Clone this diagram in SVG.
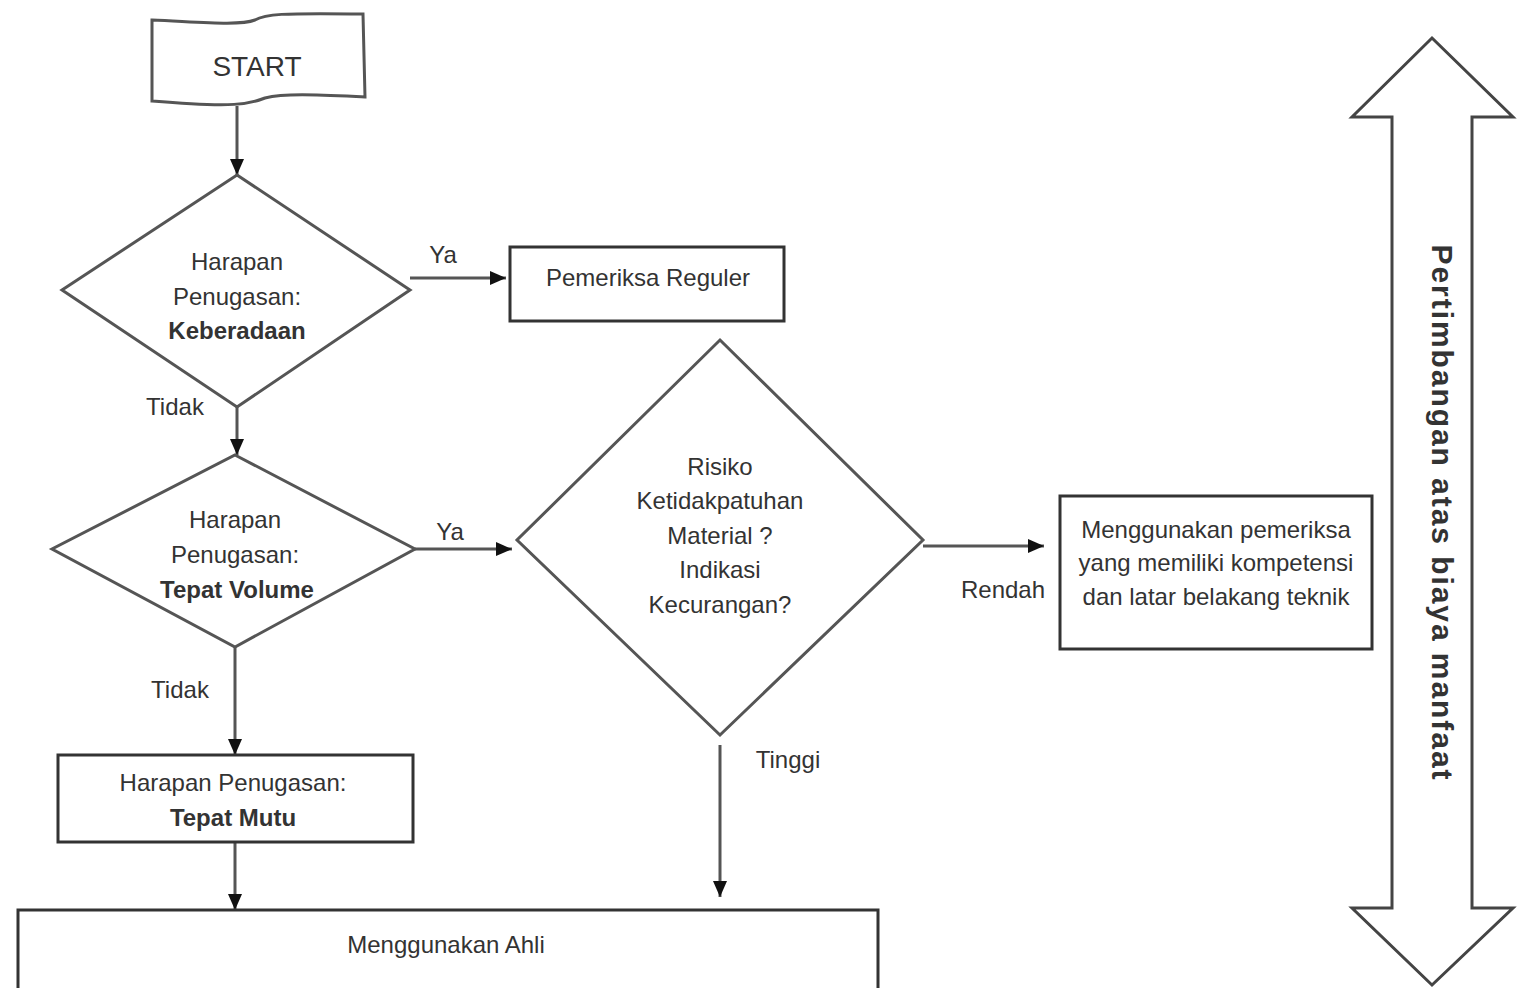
<svg xmlns="http://www.w3.org/2000/svg" width="1529" height="988" viewBox="0 0 1529 988">
<style>
  text { font-family: "Liberation Sans", Arial, sans-serif; font-size: 24px; fill: #333; text-anchor: middle; }
  .b { font-weight: bold; }
  .shape { fill: #fff; stroke: #555; stroke-width: 3; }
  .box { fill: #fff; stroke: #333; stroke-width: 3; }
  .conn { fill: none; stroke: #555; stroke-width: 3; marker-end: url(#ah); }
</style>
<defs>
  <marker id="ah" markerUnits="userSpaceOnUse" markerWidth="16" markerHeight="16" viewBox="0 0 16 16" refX="16" refY="8" orient="auto">
    <path d="M0,1 L16,8 L0,15 Z" fill="#111"/>
  </marker>
</defs>
<rect x="0" y="0" width="1529" height="988" fill="#fff"/>

<g id="connectors">
  <line class="conn" x1="237" y1="106" x2="237" y2="175"/>
  <line class="conn" x1="410" y1="278" x2="506" y2="278"/>
  <line class="conn" x1="237" y1="407" x2="237" y2="455"/>
  <line class="conn" x1="415" y1="549" x2="512" y2="549"/>
  <line class="conn" x1="235" y1="647" x2="235" y2="755"/>
  <line class="conn" x1="235" y1="842" x2="235" y2="910"/>
  <line class="conn" x1="923" y1="546" x2="1044" y2="546"/>
  <line class="conn" x1="720" y1="745" x2="720" y2="897"/>
  <text x="443" y="263">Ya</text>
  <text x="175" y="415">Tidak</text>
  <text x="450" y="540">Ya</text>
  <text x="180" y="698">Tidak</text>
  <text x="1003" y="598">Rendah</text>
  <text x="788" y="768">Tinggi</text>
</g>

<g id="start">
  <path class="shape" d="M152,20 C 200,22 240,26 255,20 C 265,14 280,13 363,14 L 365,97 C 320,95 285,93 265,98 C 250,104 235,108 152,101 Z"/>
  <text x="257" y="76" style="font-size:28px">START</text>
</g>

<g id="d-keberadaan">
  <polygon class="shape" points="237,175 410,290 237,407 62,290"/>
  <text x="237" y="270">Harapan</text>
  <text x="237" y="305">Penugasan:</text>
  <text x="237" y="339" class="b">Keberadaan</text>
</g>

<g id="pemeriksa-reguler">
  <rect class="box" x="510" y="247" width="274" height="74"/>
  <text x="648" y="286">Pemeriksa Reguler</text>
</g>

<g id="d-volume">
  <polygon class="shape" points="235,455 415,549 235,647 52,549"/>
  <text x="235" y="528">Harapan</text>
  <text x="235" y="563">Penugasan:</text>
  <text x="237" y="598" class="b">Tepat Volume</text>
</g>

<g id="tepat-mutu">
  <rect class="box" x="58" y="755" width="355" height="87"/>
  <text x="233" y="791">Harapan Penugasan:</text>
  <text x="233" y="826" class="b">Tepat Mutu</text>
</g>

<g id="d-risiko">
  <polygon class="shape" points="720,340 923,540 720,735 517,540"/>
  <text x="720" y="475">Risiko</text>
  <text x="720" y="509">Ketidakpatuhan</text>
  <text x="720" y="544">Material ?</text>
  <text x="720" y="578">Indikasi</text>
  <text x="720" y="613">Kecurangan?</text>
</g>

<g id="pemeriksa-teknik">
  <rect class="box" x="1060" y="496" width="312" height="153"/>
  <text x="1216" y="538">Menggunakan pemeriksa</text>
  <text x="1216" y="571">yang memiliki kompetensi</text>
  <text x="1216" y="605">dan latar belakang teknik</text>
</g>

<g id="ahli">
  <path class="box" d="M18,995 L18,910 L878,910 L878,995"/>
  <text x="446" y="953">Menggunakan  Ahli</text>
</g>

<g id="double-arrow">
  <path fill="#fff" stroke="#444" stroke-width="3" stroke-linejoin="miter" d="M1432,38 L1513,117 L1472,117 L1472,908 L1513,908 L1432,985 L1352,908 L1392,908 L1392,117 L1352,117 Z"/>
  <text class="b" transform="translate(1432,512) rotate(90)" style="font-size:30px" textLength="535" lengthAdjust="spacing">Pertimbangan atas biaya manfaat</text>
</g>
</svg>
